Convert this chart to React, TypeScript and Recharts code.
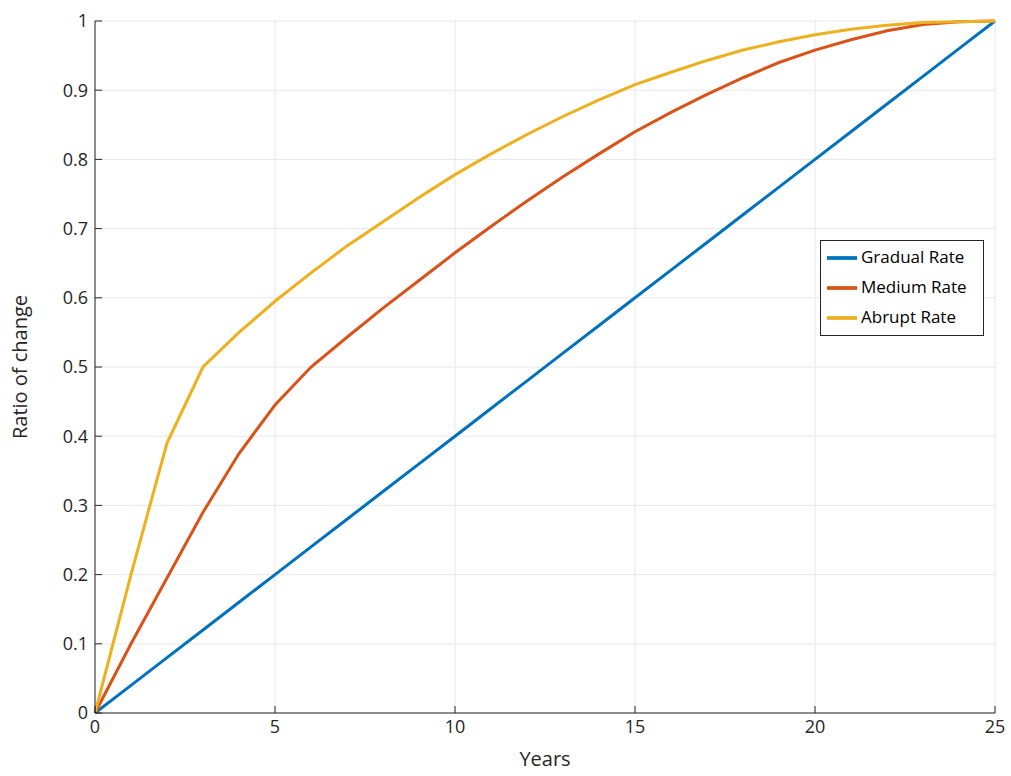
import React from 'react'
import { LineChart, Line, XAxis, YAxis, CartesianGrid, Legend } from 'recharts'

const years = Array.from({ length: 26 }, (_, i) => i)
const gradual = [0, 0.04, 0.08, 0.12, 0.16, 0.2, 0.24, 0.28, 0.32, 0.36, 0.4, 0.44, 0.48, 0.52, 0.56, 0.6, 0.64, 0.68, 0.72, 0.76, 0.8, 0.84, 0.88, 0.92, 0.96, 1]
const medium = [0, 0.1, 0.195, 0.29, 0.375, 0.445, 0.5, 0.543, 0.585, 0.625, 0.665, 0.703, 0.74, 0.775, 0.808, 0.84, 0.868, 0.894, 0.918, 0.94, 0.958, 0.973, 0.986, 0.995, 0.999, 1]
const abrupt = [0, 0.2, 0.39, 0.5, 0.55, 0.595, 0.636, 0.675, 0.71, 0.745, 0.778, 0.808, 0.836, 0.862, 0.886, 0.908, 0.926, 0.943, 0.958, 0.97, 0.98, 0.988, 0.994, 0.998, 0.999, 1]
const xTicks = [0, 5, 10, 15, 20, 25]
const yTicks = [0, 0.1, 0.2, 0.3, 0.4, 0.5, 0.6, 0.7, 0.8, 0.9, 1]
const seriesOrder = ['Gradual Rate', 'Medium Rate', 'Abrupt Rate']

const data = years.map((y, i) => ({ year: y, gradual: gradual[i], medium: medium[i], abrupt: abrupt[i] }))

const font = { fontFamily: 'Open Sans', fontSize: 18, fill: '#262626' }

export default function App() {
  return (
    <div style={{ position: 'absolute', left: 0, top: 0, background: '#fff' }}>
      <LineChart width={1011} height={776} data={data} margin={{ top: 21, right: 16, bottom: 0, left: 0 }}>
        <CartesianGrid stroke="#e8e8e8" />
        <XAxis dataKey="year" type="number" domain={[0, 25]} ticks={xTicks} stroke="#262626" tick={font}
          tickSize={-7} tickMargin={14} height={63}
          label={{ value: 'Years', position: 'insideBottom', offset: 10, style: { ...font, fontSize: 20 } }} />
        <XAxis xAxisId="top" orientation="top" dataKey="year" type="number" domain={[0, 25]} ticks={xTicks}
          tick={false} tickSize={-7} stroke="#262626" height={0} />
        <YAxis domain={[0, 1]} ticks={yTicks} stroke="#262626" tick={font} tickSize={-7} tickMargin={14} width={95}
          label={{ value: 'Ratio of change', angle: -90, position: 'insideLeft', offset: 20, style: { ...font, fontSize: 20, textAnchor: 'middle' } }} />
        <YAxis yAxisId="right" orientation="right" domain={[0, 1]} ticks={yTicks} tick={false} tickSize={-7} stroke="#262626" width={0} />
        <Legend layout="vertical" align="center" verticalAlign="middle" iconType="plainline" iconSize={30}
          itemSorter={(item: any) => seriesOrder.indexOf(item.value)}
          wrapperStyle={{ top: 240, left: 820, width: 'auto', background: '#fff', border: '1px solid #262626', padding: '2px 6px', fontFamily: 'Open Sans', fontSize: 17 }}
          formatter={(v) => <span style={{ color: '#000' }}>{v}</span>} />
        <Line dataKey="gradual" name="Gradual Rate" stroke="#0072bd" strokeWidth={3} dot={false} isAnimationActive={false} />
        <Line dataKey="medium" name="Medium Rate" stroke="#d95319" strokeWidth={3} dot={false} isAnimationActive={false} />
        <Line dataKey="abrupt" name="Abrupt Rate" stroke="#edb120" strokeWidth={3} dot={false} isAnimationActive={false} />
      </LineChart>
    </div>
  )
}
